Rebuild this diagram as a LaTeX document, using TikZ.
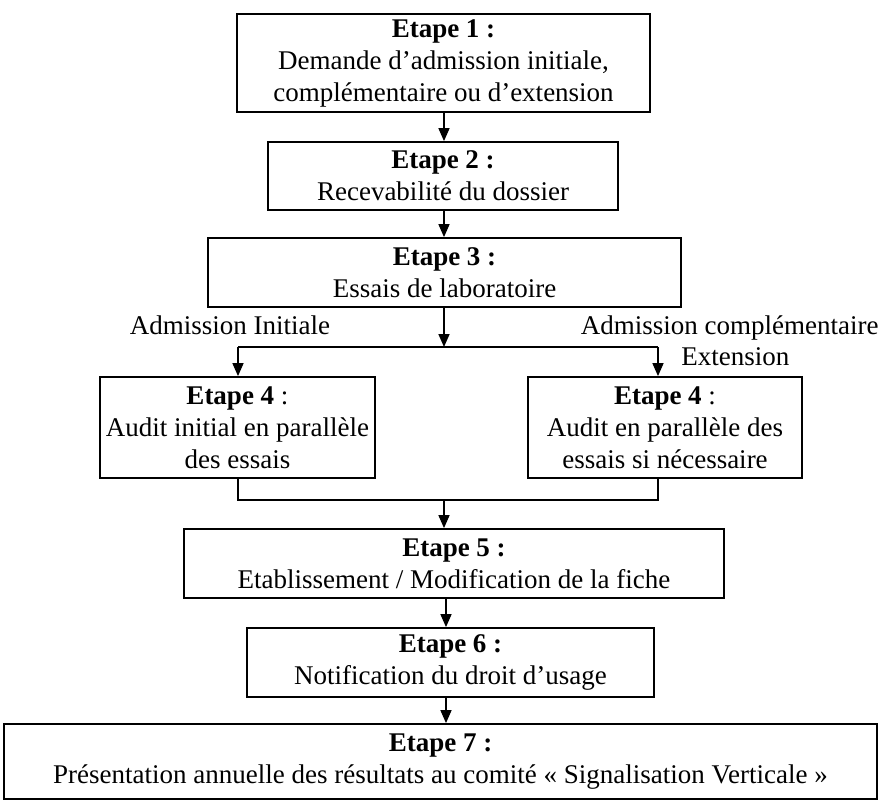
\documentclass[tikz,border=0pt]{standalone}
\usepackage{fontspec}
\setmainfont{Liberation Serif}
\usetikzlibrary{arrows.meta,calc}
\begin{document}
\begin{tikzpicture}[x=0.5pt,y=-0.5pt,
  stepbox/.style={draw, line width=0.9pt, inner sep=0pt, align=center,
    font=\fontsize{13.5}{16}\selectfont},
  arr/.style={line width=0.8pt, -{Triangle[width=5.5pt,length=6.5pt]}},
  ln/.style={line width=0.8pt},
  lbl/.style={inner sep=0pt, font=\fontsize{13.5}{16}\selectfont}]
\useasboundingbox (0,0) rectangle (880,800);
\node[stepbox, minimum width=206.5pt, minimum height=49pt] (b1) at (443.5,63)
  {\textbf{Etape 1 :}\\Demande d’admission initiale,\\complémentaire ou d’extension};
\node[stepbox, minimum width=175pt, minimum height=34pt] (b2) at (443,176)
  {\textbf{Etape 2 :}\\Recevabilité du dossier};
\node[stepbox, minimum width=236.5pt, minimum height=34.5pt] (b3) at (444.5,272.5)
  {\textbf{Etape 3 :}\\Essais de laboratoire};
\node[stepbox, minimum width=137.5pt, minimum height=50.5pt] (b4l) at (237.5,427.5)
  {\textbf{Etape 4} :\\Audit initial en parallèle\\des essais};
\node[stepbox, minimum width=137pt, minimum height=50.5pt] (b4r) at (665,427.5)
  {\textbf{Etape 4} :\\Audit en parallèle des\\essais si nécessaire};
\node[stepbox, minimum width=270pt, minimum height=34.5pt] (b5) at (454,563.5)
  {\textbf{Etape 5 :}\\Etablissement / Modification de la fiche};
\node[stepbox, minimum width=203.5pt, minimum height=34.5pt] (b6) at (450.5,662.5)
  {\textbf{Etape 6 :}\\Notification du droit d’usage};
\node[stepbox, minimum width=436.5pt, minimum height=37.5pt] (b7) at (440.5,761.5)
  {\textbf{Etape 7 :}\\Présentation annuelle des résultats au comité « Signalisation Verticale »};
\node[lbl, anchor=base] (la) at (230,334) {Admission Initiale};
\node[lbl, anchor=base east] (lb) at (879,334) {Admission complémentaire};
\node[lbl, anchor=base west] (lc) at (681,365) {Extension};
\coordinate (sp) at (444,0);
\coordinate (spb) at (446,0);
\coordinate (bl) at (238,347);
\coordinate (br) at (658,347);
\coordinate (bm) at (444,347);
\coordinate (ml) at (238,500);
\coordinate (mr) at (658,500);
\coordinate (mm) at (444,500);
\draw[arr] (b1.south -| sp) -- (b2.north -| sp);
\draw[arr] (b2.south -| sp) -- (b3.north -| sp);
\draw[arr] (b3.south -| sp) -- (bm);
\draw[ln] (bl) -- (br);
\draw[arr] (bl) -- (b4l.north -| bl);
\draw[arr] (br) -- (b4r.north -| br);
\draw[ln] (b4l.south -| ml) -- (ml) -- (mr) -- (b4r.south -| mr);
\draw[arr] (mm) -- (b5.north -| mm);
\draw[arr] (b5.south -| spb) -- (b6.north -| spb);
\draw[arr] (b6.south -| spb) -- (b7.north -| spb);
\end{tikzpicture}
\end{document}
